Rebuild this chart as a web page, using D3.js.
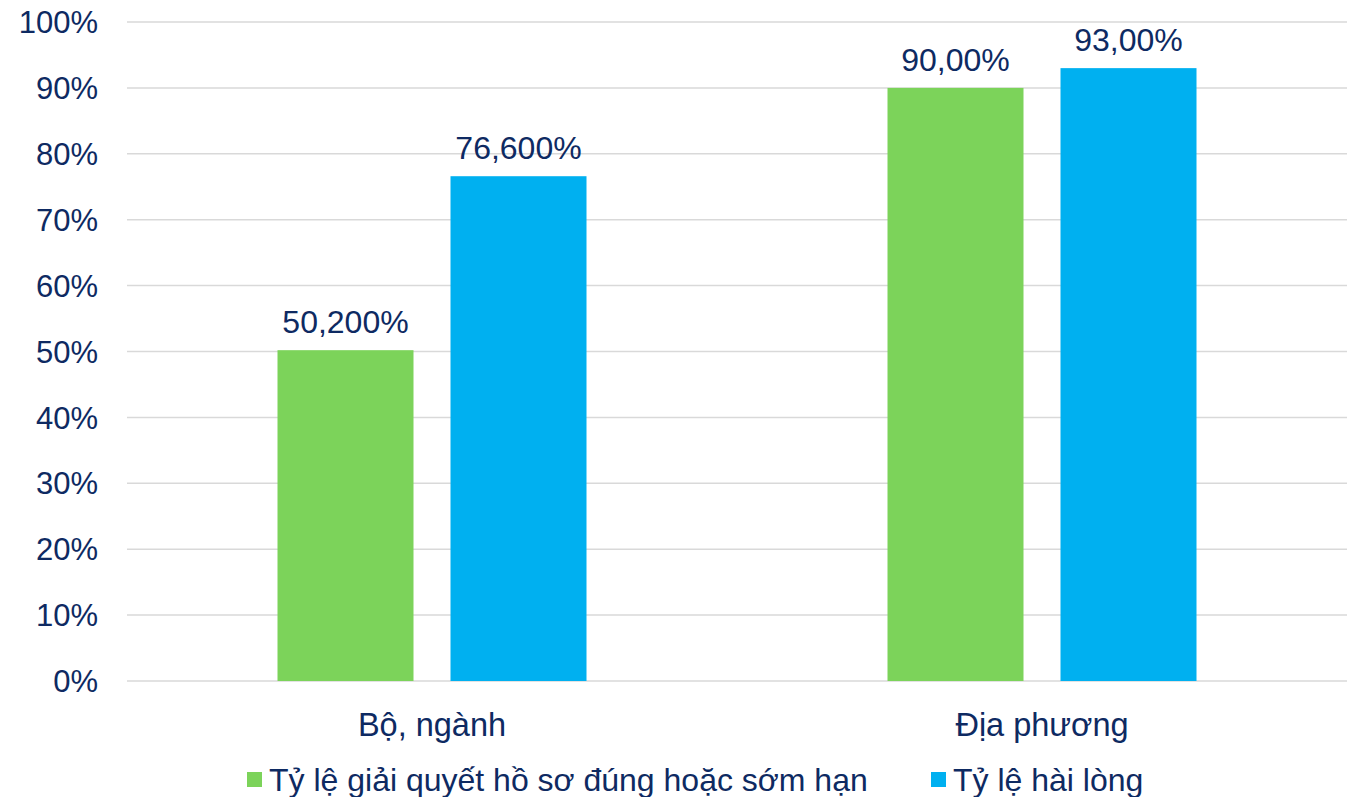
<!DOCTYPE html>
<html>
<head>
<meta charset="utf-8">
<script src="https://cdn.jsdelivr.net/npm/d3@7"></script>
<style>
  body { margin: 0; background: #fff; }
  text { font-family: "Liberation Sans", Arial, sans-serif; fill: #0E2A62; }
</style>
</head>
<body>
<div id="chart"></div>
<script>
var categories = ["Bộ, ngành", "Địa phương"];
var seriesNames = ["Tỷ lệ giải quyết hồ sơ đúng hoặc sớm hạn", "Tỷ lệ hài lòng"];
var onTimeValues = [50.2, 90.0];
var satisfiedValues = [76.6, 93.0];
var valueLabels = [["50,200%", "90,00%"], ["76,600%", "93,00%"]];
var yTicks = [0, 10, 20, 30, 40, 50, 60, 70, 80, 90, 100];
var colors = ["#7CD35A", "#00B0F0"];

var svgWidth = 1349;
var svgHeight = 797;
var margin = { top: 22, right: 2, bottom: 116, left: 127 };
var width = svgWidth - margin.left - margin.right;
var height = svgHeight - margin.top - margin.bottom;

var svg = d3.select("#chart")
  .append("svg")
  .attr("width", svgWidth)
  .attr("height", svgHeight);

var chartGroup = svg.append("g")
  .attr("transform", `translate(${margin.left}, ${margin.top})`);

var xScale = d3.scaleBand()
  .domain(categories)
  .range([0, width]);

var yScale = d3.scaleLinear()
  .domain([0, 100])
  .range([height, 0]);

// gridlines
chartGroup.selectAll(".grid")
  .data(yTicks)
  .enter()
  .append("line")
  .attr("x1", 0)
  .attr("x2", width)
  .attr("y1", d => yScale(d))
  .attr("y2", d => yScale(d))
  .attr("stroke", "#D9D9D9")
  .attr("stroke-width", 1.5);

// y tick labels
chartGroup.selectAll(".ylab")
  .data(yTicks)
  .enter()
  .append("text")
  .attr("x", -29)
  .attr("y", d => yScale(d))
  .attr("dy", "0.36em")
  .attr("text-anchor", "end")
  .style("font-size", "31px")
  .text(d => d + "%");

// bars
var barWidth = 136;
var barGap = 37;
var series = [onTimeValues, satisfiedValues];

series.forEach(function(vals, s) {
  var offset = s === 0 ? -(barGap / 2 + barWidth) : barGap / 2;
  chartGroup.selectAll(".bar" + s)
    .data(categories)
    .enter()
    .append("rect")
    .attr("x", d => xScale(d) + xScale.bandwidth() / 2 + offset)
    .attr("y", (d, i) => yScale(vals[i]))
    .attr("width", barWidth)
    .attr("height", (d, i) => height - yScale(vals[i]))
    .attr("fill", colors[s]);

  chartGroup.selectAll(".val" + s)
    .data(categories)
    .enter()
    .append("text")
    .attr("x", d => xScale(d) + xScale.bandwidth() / 2 + offset + barWidth / 2)
    .attr("y", (d, i) => yScale(vals[i]) - 17)
    .attr("text-anchor", "middle")
    .style("font-size", "32px")
    .text((d, i) => valueLabels[s][i]);
});

// category labels
chartGroup.selectAll(".xlab")
  .data(categories)
  .enter()
  .append("text")
  .attr("x", d => xScale(d) + xScale.bandwidth() / 2)
  .attr("y", height + 55)
  .attr("text-anchor", "middle")
  .style("font-size", "32.5px")
  .text(d => d);

// legend
var legendX = [247, 931];
var legend = svg.append("g");
seriesNames.forEach(function(name, i) {
  legend.append("rect")
    .attr("x", legendX[i])
    .attr("y", 772)
    .attr("width", 15)
    .attr("height", 15)
    .attr("fill", colors[i]);
  legend.append("text")
    .attr("x", legendX[i] + 22)
    .attr("y", 791)
    .style("font-size", "32px")
    .text(name);
});
</script>
</body>
</html>
